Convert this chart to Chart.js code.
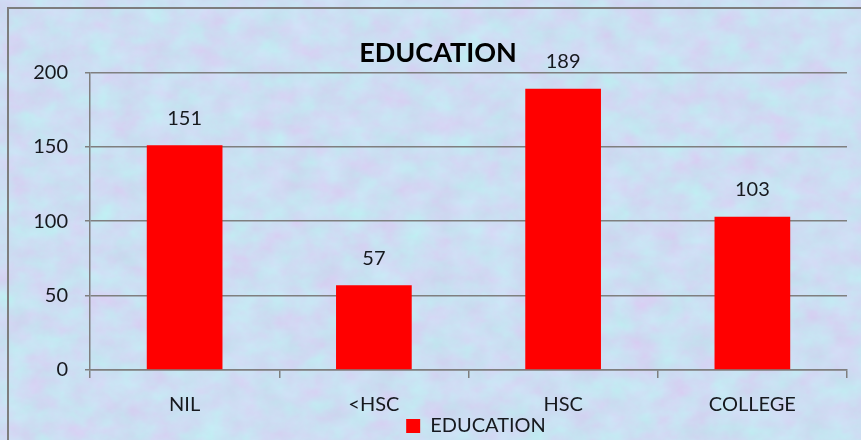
<!DOCTYPE html>
<html>
<head>
  <meta charset="UTF-8">
  <title>EDUCATION</title>
  <script src="https://cdn.jsdelivr.net/npm/chart.js"></script>
  <style>
    html, body { margin: 0; padding: 0; background: #cfdbf1; }
    #wrap { position: relative; width: 861px; height: 440px; overflow: hidden; }
    #bg { position: absolute; left: 0; top: 0; }
    #frame { position: absolute; left: 7px; top: 7px; width: 900px; height: 500px;
             border-left: 2px solid #7d7d7d; border-top: 2px solid #7d7d7d; }
    #eduChart { position: absolute; left: 0; top: 0; }
  </style>
</head>
<body>
  <div id="wrap">
    <svg id="bg" width="861" height="440">
      <filter id="marble" x="0" y="0" width="100%" height="100%" color-interpolation-filters="sRGB">
        <feTurbulence type="fractalNoise" baseFrequency="0.035 0.045" numOctaves="5" seed="7"/>
        <feColorMatrix type="matrix"
          values="0.11 -0.04 0 0 0.765
                  -0.08 0.12 0 0 0.85
                  0.03 0.03 0 0 0.92
                  0 0 0 0 1"/>
      </filter>
      <rect width="861" height="440" filter="url(#marble)"/>
    </svg>
    <div id="frame"></div>
    <canvas id="eduChart" width="861" height="440"></canvas>
  </div>
  <script>
    const categories = ['NIL', '<HSC', 'HSC', 'COLLEGE'];
    const counts = [151, 57, 189, 103];
    const seriesName = 'EDUCATION';

    const textColor = '#16191e';
    const axisGray = '#7f7f7f';

    // value labels above each bar
    const barValues = {
      id: 'barValues',
      afterDatasetsDraw(chart) {
        const ctx = chart.ctx;
        const meta = chart.getDatasetMeta(0);
        ctx.save();
        ctx.font = '20px Lato';
        ctx.fillStyle = textColor;
        ctx.textAlign = 'center';
        ctx.textBaseline = 'middle';
        meta.data.forEach((bar, i) => {
          ctx.fillText(String(counts[i]), bar.x, bar.y - 27);
        });
        ctx.restore();
      }
    };

    // legend sits a bit right of centre and low in the original
    const nudgeLegend = {
      id: 'nudgeLegend',
      afterLayout(chart) {
        const lg = chart.legend;
        lg.left += 38; lg.right += 38;
        lg.top -= 14; lg.bottom -= 14;
      }
    };

    new Chart(document.getElementById('eduChart'), {
      type: 'bar',
      data: {
        labels: categories,
        datasets: [{
          label: seriesName,
          data: counts,
          backgroundColor: '#ff0000',
          borderWidth: 0,
          barPercentage: 0.4,
          categoryPercentage: 1.0
        }]
      },
      options: {
        responsive: false,
        animation: false,
        layout: { padding: { left: 29, right: 14, top: 21, bottom: -20 } },
        plugins: {
          title: {
            display: true,
            text: 'EDUCATION',
            color: '#000',
            font: { family: 'Lato', size: 27, weight: 'bold' },
            padding: { top: 16, bottom: 3 }
          },
          legend: {
            position: 'bottom',
            labels: {
              boxWidth: 14, boxHeight: 14, padding: 10,
              color: textColor,
              font: { family: 'Lato', size: 20 }
            }
          },
          tooltip: { enabled: false }
        },
        scales: {
          x: {
            grid: { drawOnChartArea: false, tickLength: 8, color: axisGray, lineWidth: 1.5 },
            border: { color: axisGray, width: 1.5 },
            ticks: { padding: 15, color: textColor, font: { family: 'Lato', size: 20 } },
            afterFit: s => { s.height = 50; }
          },
          y: {
            min: 0, max: 200,
            ticks: { stepSize: 50, padding: 17, color: textColor, font: { family: 'Lato', size: 20 } },
            grid: { tickLength: 5, color: axisGray, lineWidth: 1.5 },
            border: { color: axisGray, width: 1.5 },
            afterFit: s => { s.width = 61; }
          }
        }
      },
      plugins: [barValues, nudgeLegend]
    });
  </script>
</body>
</html>
